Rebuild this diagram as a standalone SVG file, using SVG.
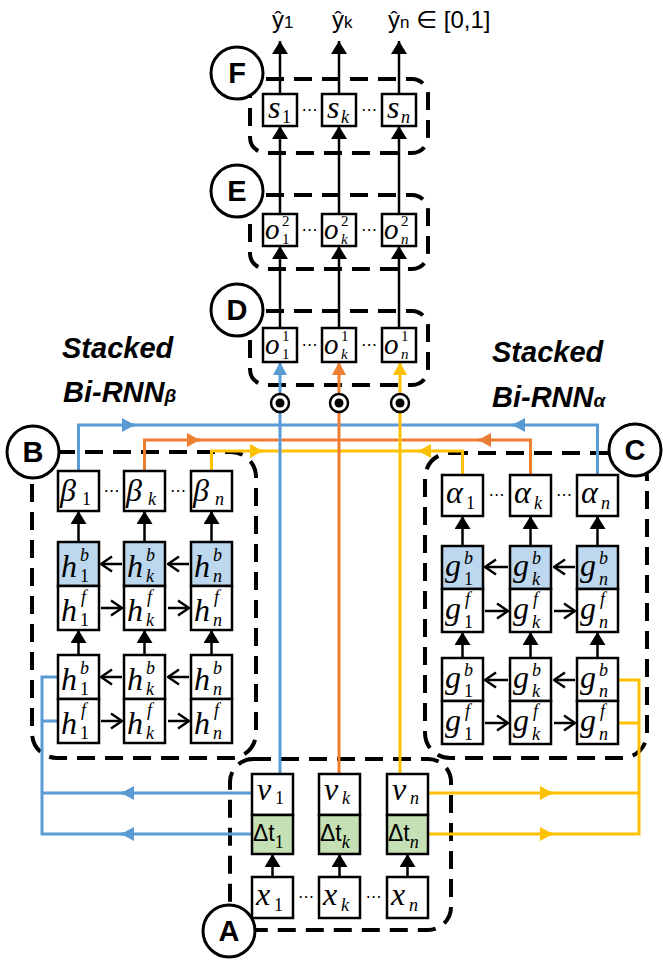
<svg xmlns="http://www.w3.org/2000/svg" width="663" height="963" viewBox="0 0 663 963">
<style>
.dash{fill:none;stroke:#000;stroke-width:4;stroke-dasharray:18 10}
.bx{fill:#fff;stroke:#000;stroke-width:2.5}
.bx.bl{fill:#bdd7ee}
.bx.gr{fill:#c5e0b4}
.ar{fill:none;stroke:#000;stroke-width:2.5}
.cb{fill:none;stroke:#5b9bd5;stroke-width:3}
.co{fill:none;stroke:#ed7d31;stroke-width:3}
.cy{fill:none;stroke:#ffc000;stroke-width:3}
.m{font-family:"Liberation Serif","DejaVu Serif",serif;font-style:italic;font-size:32px}
.m2{font-family:"Liberation Serif","DejaVu Serif",serif;font-style:italic;font-size:29px}
.s{font-size:18px;font-style:normal}
.si{font-size:18px}
.t{font-size:15px;font-style:normal}
.ti{font-size:15px}
.dt{font-family:"Liberation Sans",Arial,sans-serif;font-size:23px}
.ds{font-family:"Liberation Serif",serif;font-size:18px;font-style:italic}
.ds1{font-family:"Liberation Serif",serif;font-size:18px;font-style:normal}
.lbl circle{fill:#fff;stroke:#000;stroke-width:3}
.lbl text{font-family:"Liberation Sans",Arial,sans-serif;font-weight:bold;font-size:29px;text-anchor:middle}
.dots{font-family:"DejaVu Sans",sans-serif;font-size:16px;text-anchor:middle}
.title{font-family:"Liberation Sans",Arial,sans-serif;font-weight:bold;font-style:italic;font-size:29px}
.ttsub{font-size:19px}
.yh{font-family:"Liberation Sans","DejaVu Sans",sans-serif;font-size:24px}
.yhs{font-size:17px}
.op circle.o{fill:#fff;stroke:#000;stroke-width:2.5}
</style>
<defs>
<marker id="ah" viewBox="0 0 13 16" refX="13" refY="8" markerWidth="13" markerHeight="16" markerUnits="userSpaceOnUse" orient="auto"><path d="M0,0L13,8L0,16z" fill="#000"/></marker>
<marker id="mb" viewBox="0 0 13 14" refX="13" refY="7" markerWidth="13" markerHeight="14" markerUnits="userSpaceOnUse" orient="auto"><path d="M0,0L13,7L0,14z" fill="#5b9bd5"/></marker>
<marker id="mo" viewBox="0 0 13 14" refX="13" refY="7" markerWidth="13" markerHeight="14" markerUnits="userSpaceOnUse" orient="auto"><path d="M0,0L13,7L0,14z" fill="#ed7d31"/></marker>
<marker id="my" viewBox="0 0 13 14" refX="13" refY="7" markerWidth="13" markerHeight="14" markerUnits="userSpaceOnUse" orient="auto"><path d="M0,0L13,7L0,14z" fill="#ffc000"/></marker>
<marker id="ch" viewBox="0 0 13 18" refX="12" refY="9" markerWidth="13" markerHeight="18" markerUnits="userSpaceOnUse" orient="auto"><path d="M1,1.5L12,9L1,16.5" fill="none" stroke="#000" stroke-width="2.5"/></marker>
</defs>

<!-- containers -->
<g id="F" class="lbl"><rect class="dash" x="250" y="79" width="178" height="74" rx="16"/><circle cx="237" cy="73" r="26"/><text x="237" y="83">F</text></g>
<g id="E" class="lbl"><rect class="dash" x="250" y="195" width="178" height="74" rx="16"/><circle cx="237" cy="191" r="26"/><text x="237" y="201">E</text></g>
<g id="D" class="lbl"><rect class="dash" x="250" y="311" width="178" height="74" rx="16"/><circle cx="237" cy="310" r="26"/><text x="237" y="320">D</text></g>
<g id="B" class="lbl"><rect class="dash" x="32" y="452" width="224" height="306" rx="25"/><circle cx="33" cy="452" r="26"/><text x="33" y="462">B</text></g>
<g id="C" class="lbl"><rect class="dash" x="425" y="453" width="222" height="305" rx="25"/><circle cx="635" cy="450" r="26"/><text x="635" y="460">C</text></g>
<g id="A" class="lbl"><rect class="dash" x="230" y="759" width="221" height="171" rx="23"/><circle cx="229" cy="931" r="26"/><text x="229" y="941">A</text></g>

<!-- titles -->
<g id="titles">
<text class="title" x="62" y="358">Stacked</text>
<text class="title" x="63" y="402">Bi-RNN<tspan class="ttsub">β</tspan></text>
<text class="title" x="492" y="362">Stacked</text>
<text class="title" x="492" y="407">Bi-RNN<tspan class="ttsub">α</tspan></text>
</g>

<!-- outputs -->
<g id="outputs">
<text class="yh" x="272" y="28">ŷ<tspan class="yhs">1</tspan></text>
<text class="yh" x="332" y="28">ŷ<tspan class="yhs">k</tspan></text>
<text class="yh" x="388" y="28">ŷ<tspan class="yhs">n</tspan> ∈ [0,1]</text>
</g>

<!-- connectors -->
<g id="connectors">
<path class="cb" d="M78.5 471V425H597.5V475"/>
<path class="co" d="M144.5 471V440H530.5V475"/>
<path class="cy" d="M211.5 471V451H462.5V475"/>
<path class="cb" d="M122 425H135" marker-end="url(#mb)"/>
<path class="cb" d="M525 425H512" marker-end="url(#mb)"/>
<path class="co" d="M187 440H200" marker-end="url(#mo)"/>
<path class="co" d="M491 440H478" marker-end="url(#mo)"/>
<path class="cy" d="M250 451H263" marker-end="url(#my)"/>
<path class="cy" d="M431 451H418" marker-end="url(#my)"/>
<path class="cb" d="M280 774V362" marker-end="url(#mb)"/>
<path class="co" d="M339 774V362" marker-end="url(#mo)"/>
<path class="cy" d="M400 774V362" marker-end="url(#my)"/>
<path class="cb" d="M58 677H42V834H252M252 793H42M42 721H58"/>
<path class="cb" d="M134 793H121" marker-end="url(#mb)"/>
<path class="cb" d="M134 834H121" marker-end="url(#mb)"/>
<path class="cy" d="M618 680H639V834H428M428 793H639M618 723H639"/>
<path class="cy" d="M540 793H553" marker-end="url(#my)"/>
<path class="cy" d="M540 834H553" marker-end="url(#my)"/>
<path class="ar" d="M280 94V41" marker-end="url(#ah)"/>
<path class="ar" d="M339 94V41" marker-end="url(#ah)"/>
<path class="ar" d="M399 94V41" marker-end="url(#ah)"/>
<path class="ar" d="M280 214V126" marker-end="url(#ah)"/>
<path class="ar" d="M339 214V126" marker-end="url(#ah)"/>
<path class="ar" d="M399 214V126" marker-end="url(#ah)"/>
<path class="ar" d="M280 328V246" marker-end="url(#ah)"/>
<path class="ar" d="M339 328V246" marker-end="url(#ah)"/>
<path class="ar" d="M399 328V246" marker-end="url(#ah)"/>
<path class="ar" d="M78.5 542V511" marker-end="url(#ah)"/>
<path class="ar" d="M144.5 542V511" marker-end="url(#ah)"/>
<path class="ar" d="M211.5 542V511" marker-end="url(#ah)"/>
<path class="ar" d="M78.5 655V630" marker-end="url(#ah)"/>
<path class="ar" d="M144.5 655V630" marker-end="url(#ah)"/>
<path class="ar" d="M211.5 655V630" marker-end="url(#ah)"/>
<path class="ar" d="M462.5 546V516" marker-end="url(#ah)"/>
<path class="ar" d="M530.5 546V516" marker-end="url(#ah)"/>
<path class="ar" d="M597.5 546V516" marker-end="url(#ah)"/>
<path class="ar" d="M462.5 658V632" marker-end="url(#ah)"/>
<path class="ar" d="M530.5 658V632" marker-end="url(#ah)"/>
<path class="ar" d="M597.5 658V632" marker-end="url(#ah)"/>
<path class="ar" d="M272.5 877V854" marker-end="url(#ah)"/>
<path class="ar" d="M339.5 877V854" marker-end="url(#ah)"/>
<path class="ar" d="M407.5 877V854" marker-end="url(#ah)"/>
<path class="ar" d="M122 564H101" marker-end="url(#ch)"/>
<path class="ar" d="M189 564H168" marker-end="url(#ch)"/>
<path class="ar" d="M101 608H122" marker-end="url(#ch)"/>
<path class="ar" d="M168 608H189" marker-end="url(#ch)"/>
<path class="ar" d="M122 677H101" marker-end="url(#ch)"/>
<path class="ar" d="M189 677H168" marker-end="url(#ch)"/>
<path class="ar" d="M101 721H122" marker-end="url(#ch)"/>
<path class="ar" d="M168 721H189" marker-end="url(#ch)"/>
<path class="ar" d="M508 567H485" marker-end="url(#ch)"/>
<path class="ar" d="M575 567H554" marker-end="url(#ch)"/>
<path class="ar" d="M485 611H508" marker-end="url(#ch)"/>
<path class="ar" d="M554 611H575" marker-end="url(#ch)"/>
<path class="ar" d="M508 680H485" marker-end="url(#ch)"/>
<path class="ar" d="M575 680H554" marker-end="url(#ch)"/>
<path class="ar" d="M485 723H508" marker-end="url(#ch)"/>
<path class="ar" d="M554 723H575" marker-end="url(#ch)"/>
</g>

<!-- multiplication operators -->
<g id="mult" class="op">
<circle class="o" cx="280" cy="403" r="9"/><circle cx="280" cy="403" r="4.5"/>
<circle class="o" cx="339" cy="403" r="9"/><circle cx="339" cy="403" r="4.5"/>
<circle class="o" cx="400" cy="403" r="9"/><circle cx="400" cy="403" r="4.5"/>
</g>

<!-- F: s -->
<g id="s_1"><rect class="bx" x="263" y="94" width="34" height="32"/><text class="m"><tspan x="268" y="118">s</tspan><tspan class="s" x="282" y="123">1</tspan></text></g>
<g id="s_k"><rect class="bx" x="322" y="94" width="34" height="32"/><text class="m"><tspan x="327" y="118">s</tspan><tspan class="si" x="341" y="123">k</tspan></text></g>
<g id="s_n"><rect class="bx" x="382" y="94" width="34" height="32"/><text class="m"><tspan x="387" y="118">s</tspan><tspan class="si" x="401" y="123">n</tspan></text></g>
<text class="dots" x="309.5" y="115">⋯</text><text class="dots" x="369" y="115">⋯</text>

<!-- E: o2 -->
<g id="o2_1"><rect class="bx" x="263" y="214" width="34" height="32"/><text class="m2"><tspan x="265" y="239">o</tspan><tspan class="t" x="282" y="226">2</tspan><tspan class="t" x="282" y="244">1</tspan></text></g>
<g id="o2_k"><rect class="bx" x="322" y="214" width="34" height="32"/><text class="m2"><tspan x="324" y="239">o</tspan><tspan class="t" x="341" y="226">2</tspan><tspan class="ti" x="341" y="244">k</tspan></text></g>
<g id="o2_n"><rect class="bx" x="382" y="214" width="34" height="32"/><text class="m2"><tspan x="384" y="239">o</tspan><tspan class="t" x="401" y="226">2</tspan><tspan class="ti" x="401" y="244">n</tspan></text></g>
<text class="dots" x="309.5" y="235">⋯</text><text class="dots" x="369" y="235">⋯</text>

<!-- D: o1 -->
<g id="o1_1"><rect class="bx" x="263" y="328" width="34" height="34"/><text class="m2"><tspan x="265" y="354">o</tspan><tspan class="t" x="282" y="341">1</tspan><tspan class="t" x="282" y="359">1</tspan></text></g>
<g id="o1_k"><rect class="bx" x="322" y="328" width="34" height="34"/><text class="m2"><tspan x="324" y="354">o</tspan><tspan class="t" x="341" y="341">1</tspan><tspan class="ti" x="341" y="359">k</tspan></text></g>
<g id="o1_n"><rect class="bx" x="382" y="328" width="34" height="34"/><text class="m2"><tspan x="384" y="354">o</tspan><tspan class="t" x="401" y="341">1</tspan><tspan class="ti" x="401" y="359">n</tspan></text></g>
<text class="dots" x="309.5" y="350">⋯</text><text class="dots" x="369" y="350">⋯</text>

<!-- B -->
<g id="beta_1"><rect class="bx" x="58" y="471" width="41" height="40"/><text class="m"><tspan x="60" y="501">β</tspan><tspan class="s" x="82" y="505">1</tspan></text></g>
<g id="beta_k"><rect class="bx" x="124" y="471" width="41" height="40"/><text class="m"><tspan x="126" y="501">β</tspan><tspan class="si" x="148" y="505">k</tspan></text></g>
<g id="beta_n"><rect class="bx" x="191" y="471" width="41" height="40"/><text class="m"><tspan x="193" y="501">β</tspan><tspan class="si" x="215" y="505">n</tspan></text></g>
<text class="dots" x="111.5" y="496">⋯</text><text class="dots" x="178" y="496">⋯</text>

<g id="hb2_1"><rect class="bx bl" x="58" y="542" width="41" height="44"/><text class="m"><tspan x="61" y="577">h</tspan><tspan class="si" x="80" y="561">b</tspan><tspan class="s" x="80" y="582">1</tspan></text></g>
<g id="hb2_k"><rect class="bx bl" x="124" y="542" width="41" height="44"/><text class="m"><tspan x="127" y="577">h</tspan><tspan class="si" x="146" y="561">b</tspan><tspan class="si" x="146" y="582">k</tspan></text></g>
<g id="hb2_n"><rect class="bx bl" x="191" y="542" width="41" height="44"/><text class="m"><tspan x="194" y="577">h</tspan><tspan class="si" x="213" y="561">b</tspan><tspan class="si" x="213" y="582">n</tspan></text></g>
<g id="hf2_1"><rect class="bx" x="58" y="586" width="41" height="44"/><text class="m"><tspan x="61" y="621">h</tspan><tspan class="si" x="81" y="603">f</tspan><tspan class="s" x="80" y="626">1</tspan></text></g>
<g id="hf2_k"><rect class="bx" x="124" y="586" width="41" height="44"/><text class="m"><tspan x="127" y="621">h</tspan><tspan class="si" x="147" y="603">f</tspan><tspan class="si" x="146" y="626">k</tspan></text></g>
<g id="hf2_n"><rect class="bx" x="191" y="586" width="41" height="44"/><text class="m"><tspan x="194" y="621">h</tspan><tspan class="si" x="214" y="603">f</tspan><tspan class="si" x="213" y="626">n</tspan></text></g>
<g id="hb1_1"><rect class="bx" x="58" y="655" width="41" height="44"/><text class="m"><tspan x="61" y="690">h</tspan><tspan class="si" x="80" y="674">b</tspan><tspan class="s" x="80" y="695">1</tspan></text></g>
<g id="hb1_k"><rect class="bx" x="124" y="655" width="41" height="44"/><text class="m"><tspan x="127" y="690">h</tspan><tspan class="si" x="146" y="674">b</tspan><tspan class="si" x="146" y="695">k</tspan></text></g>
<g id="hb1_n"><rect class="bx" x="191" y="655" width="41" height="44"/><text class="m"><tspan x="194" y="690">h</tspan><tspan class="si" x="213" y="674">b</tspan><tspan class="si" x="213" y="695">n</tspan></text></g>
<g id="hf1_1"><rect class="bx" x="58" y="699" width="41" height="44"/><text class="m"><tspan x="61" y="734">h</tspan><tspan class="si" x="81" y="716">f</tspan><tspan class="s" x="80" y="739">1</tspan></text></g>
<g id="hf1_k"><rect class="bx" x="124" y="699" width="41" height="44"/><text class="m"><tspan x="127" y="734">h</tspan><tspan class="si" x="147" y="716">f</tspan><tspan class="si" x="146" y="739">k</tspan></text></g>
<g id="hf1_n"><rect class="bx" x="191" y="699" width="41" height="44"/><text class="m"><tspan x="194" y="734">h</tspan><tspan class="si" x="214" y="716">f</tspan><tspan class="si" x="213" y="739">n</tspan></text></g>

<!-- C -->
<g id="alpha_1"><rect class="bx" x="442" y="475" width="41" height="41"/><text class="m"><tspan x="446" y="503">α</tspan><tspan class="s" x="466" y="509">1</tspan></text></g>
<g id="alpha_k"><rect class="bx" x="510" y="475" width="41" height="41"/><text class="m"><tspan x="514" y="503">α</tspan><tspan class="si" x="534" y="509">k</tspan></text></g>
<g id="alpha_n"><rect class="bx" x="577" y="475" width="41" height="41"/><text class="m"><tspan x="581" y="503">α</tspan><tspan class="si" x="601" y="509">n</tspan></text></g>
<text class="dots" x="496.5" y="500">⋯</text><text class="dots" x="564" y="500">⋯</text>

<g id="gb2_1"><rect class="bx bl" x="442" y="546" width="41" height="43"/><text class="m"><tspan x="445" y="576">g</tspan><tspan class="si" x="464" y="564">b</tspan><tspan class="s" x="464" y="585">1</tspan></text></g>
<g id="gb2_k"><rect class="bx bl" x="510" y="546" width="41" height="43"/><text class="m"><tspan x="513" y="576">g</tspan><tspan class="si" x="532" y="564">b</tspan><tspan class="si" x="532" y="585">k</tspan></text></g>
<g id="gb2_n"><rect class="bx bl" x="577" y="546" width="41" height="43"/><text class="m"><tspan x="580" y="576">g</tspan><tspan class="si" x="599" y="564">b</tspan><tspan class="si" x="599" y="585">n</tspan></text></g>
<g id="gf2_1"><rect class="bx" x="442" y="589" width="41" height="43"/><text class="m"><tspan x="445" y="619">g</tspan><tspan class="si" x="465" y="605">f</tspan><tspan class="s" x="464" y="628">1</tspan></text></g>
<g id="gf2_k"><rect class="bx" x="510" y="589" width="41" height="43"/><text class="m"><tspan x="513" y="619">g</tspan><tspan class="si" x="533" y="605">f</tspan><tspan class="si" x="532" y="628">k</tspan></text></g>
<g id="gf2_n"><rect class="bx" x="577" y="589" width="41" height="43"/><text class="m"><tspan x="580" y="619">g</tspan><tspan class="si" x="600" y="605">f</tspan><tspan class="si" x="599" y="628">n</tspan></text></g>
<g id="gb1_1"><rect class="bx" x="442" y="658" width="41" height="43"/><text class="m"><tspan x="445" y="688">g</tspan><tspan class="si" x="464" y="676">b</tspan><tspan class="s" x="464" y="697">1</tspan></text></g>
<g id="gb1_k"><rect class="bx" x="510" y="658" width="41" height="43"/><text class="m"><tspan x="513" y="688">g</tspan><tspan class="si" x="532" y="676">b</tspan><tspan class="si" x="532" y="697">k</tspan></text></g>
<g id="gb1_n"><rect class="bx" x="577" y="658" width="41" height="43"/><text class="m"><tspan x="580" y="688">g</tspan><tspan class="si" x="599" y="676">b</tspan><tspan class="si" x="599" y="697">n</tspan></text></g>
<g id="gf1_1"><rect class="bx" x="442" y="701" width="41" height="43"/><text class="m"><tspan x="445" y="731">g</tspan><tspan class="si" x="465" y="717">f</tspan><tspan class="s" x="464" y="740">1</tspan></text></g>
<g id="gf1_k"><rect class="bx" x="510" y="701" width="41" height="43"/><text class="m"><tspan x="513" y="731">g</tspan><tspan class="si" x="533" y="717">f</tspan><tspan class="si" x="532" y="740">k</tspan></text></g>
<g id="gf1_n"><rect class="bx" x="577" y="701" width="41" height="43"/><text class="m"><tspan x="580" y="731">g</tspan><tspan class="si" x="600" y="717">f</tspan><tspan class="si" x="599" y="740">n</tspan></text></g>

<!-- A -->
<g id="v_1"><rect class="bx" x="252" y="774" width="41" height="41"/><text class="m"><tspan x="257" y="800">v</tspan><tspan class="s" x="275" y="804">1</tspan></text></g>
<g id="v_k"><rect class="bx" x="319" y="774" width="41" height="41"/><text class="m"><tspan x="324" y="800">v</tspan><tspan class="si" x="342" y="804">k</tspan></text></g>
<g id="v_n"><rect class="bx" x="387" y="774" width="41" height="41"/><text class="m"><tspan x="392" y="800">v</tspan><tspan class="si" x="410" y="804">n</tspan></text></g>
<g id="dt_1"><rect class="bx gr" x="252" y="815" width="41" height="39"/><text class="dt" x="253" y="841">Δt<tspan class="ds1" y="848">1</tspan></text></g>
<g id="dt_k"><rect class="bx gr" x="319" y="815" width="41" height="39"/><text class="dt" x="320" y="841">Δt<tspan class="ds" y="848">k</tspan></text></g>
<g id="dt_n"><rect class="bx gr" x="387" y="815" width="41" height="39"/><text class="dt" x="388" y="841">Δt<tspan class="ds" y="848">n</tspan></text></g>
<g id="x_1"><rect class="bx" x="252" y="877" width="41" height="41"/><text class="m"><tspan x="256" y="905">x</tspan><tspan class="s" x="274" y="911">1</tspan></text></g>
<g id="x_k"><rect class="bx" x="319" y="877" width="41" height="41"/><text class="m"><tspan x="323" y="905">x</tspan><tspan class="si" x="341" y="911">k</tspan></text></g>
<g id="x_n"><rect class="bx" x="387" y="877" width="41" height="41"/><text class="m"><tspan x="391" y="905">x</tspan><tspan class="si" x="409" y="911">n</tspan></text></g>
<text class="dots" x="306" y="902">⋯</text><text class="dots" x="373.5" y="902">⋯</text>
</svg>
